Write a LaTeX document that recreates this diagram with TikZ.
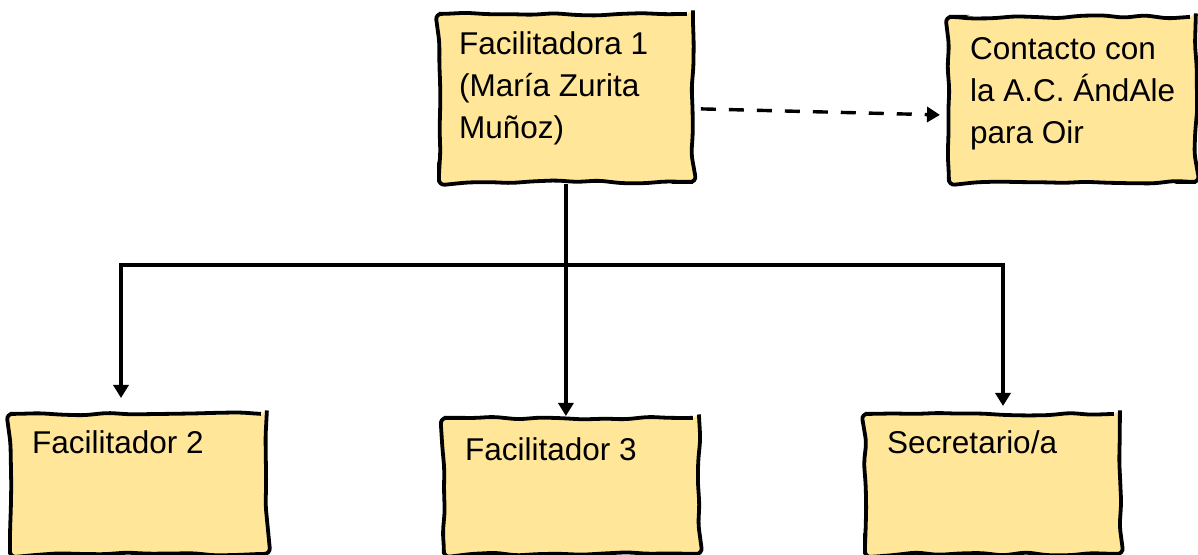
\documentclass[tikz,border=0pt]{standalone}
\usepackage{fontspec}
\setmainfont{Liberation Sans}
\usetikzlibrary{decorations.pathmorphing,arrows.meta}
\definecolor{boxfill}{HTML}{FFE699}
\begin{document}
\begin{tikzpicture}[x=1pt,y=1pt,
  box/.style={draw=black, line width=3.8pt, fill=boxfill, anchor=north west, inner sep=0pt,
    decorate, decoration={random steps, segment length=22pt, amplitude=1.6pt}, rounded corners=6pt},
  txt/.style={anchor=base west, inner sep=0pt, font=\fontsize{31.5}{42}\selectfont},
  conn/.style={line width=3.4pt, draw=black},
  arr/.style={conn, -{Triangle[length=13pt,width=15pt]}},
  dasharr/.style={arr, dash pattern=on 15pt off 13pt}]
\useasboundingbox (0,0) rectangle (1198,554);
\pgfmathsetseed{7}
% boxes
\node[box, minimum width=254pt, minimum height=168pt] (f1) at (437,542) {};
\node[box, minimum width=247pt, minimum height=165pt] (ac) at (947,539) {};
\node[box, minimum width=257pt, minimum height=140pt] (f2) at (8,142) {};
\node[box, minimum width=255pt, minimum height=136pt] (f3) at (442,138) {};
\node[box, minimum width=255pt, minimum height=140pt] (sec) at (863,142) {};
% texts
\node[txt] (f1t) at (459,499) {\parbox[t]{230pt}{Facilitadora 1\\(María Zurita\\Muñoz)}};
\node[txt] (act) at (970,494) {\parbox[t]{225pt}{Contacto con\\la A.C. ÁndAle\\para Oir}};
\node[txt] (f2t) at (32,101) {Facilitador 2};
\node[txt] (f3t) at (465,94) {Facilitador 3};
\node[txt] (sect) at (887,101) {Secretario/a};
% connectors
\coordinate (jl) at (121,289);
\coordinate (jr) at (1003,289);
\draw[arr] (f1.south) -- (f1.south |- f3.north);
\draw[arr] (jr) -- (jl) -- ([yshift=14pt]jl |- f2.north);
\draw[arr] (jl) -- (jr) -- ([yshift=6pt]jr |- sec.north);
\draw[dasharr] ([xshift=6pt,yshift=-11pt]f1.east) -- ([xshift=-7pt,yshift=-15.5pt]ac.west);
\end{tikzpicture}
\end{document}
